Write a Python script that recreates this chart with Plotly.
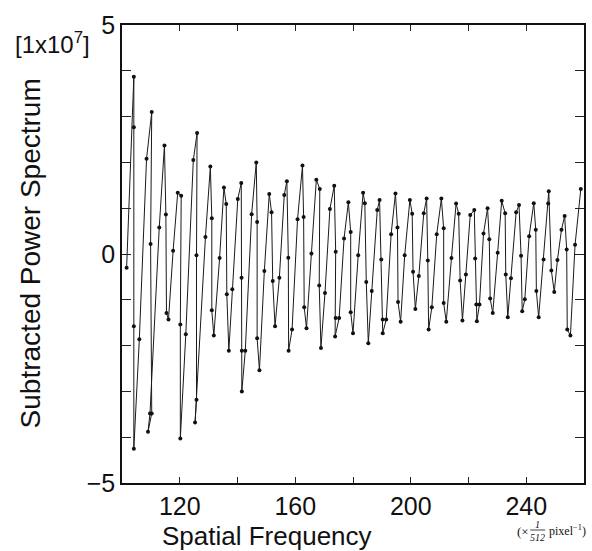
import plotly.graph_objects as go

# Spatial frequency (x 1/512 pixel^-1), in drawing order
freq = [101.6, 104.1, 104.1, 104.1, 104.1, 106.0, 108.5, 110.3, 109.9, 110.3,
        109.0, 109.7, 112.9, 114.7, 115.2, 115.4, 116.1, 117.7, 119.3, 120.5,
        120.2, 120.2, 122.1, 124.7, 126.0, 125.8, 125.8, 125.3, 128.9, 130.6,
        131.1, 131.1, 131.8, 133.8, 135.3, 136.1, 136.3, 137.0, 138.2, 140.1,
        141.3, 141.4, 141.5, 141.5, 142.7, 144.9, 146.5, 146.8, 146.8, 147.6,
        149.3, 151.0, 151.8, 152.2, 153.0, 154.5, 156.2, 157.1, 157.6, 157.7,
        158.9, 160.8, 162.5, 162.9, 163.1, 163.9, 165.6, 167.3, 168.5, 168.3,
        168.9, 170.3, 172.0, 173.5, 174.0, 174.0, 173.8, 175.2, 176.9, 178.4,
        179.2, 179.2, 180.0, 181.8, 183.5, 184.1, 184.6, 185.3, 186.5, 188.4,
        189.2, 189.8, 190.3, 190.3, 191.5, 193.2, 194.7, 195.4, 195.6, 196.5,
        197.9, 199.7, 200.5, 200.8, 201.6, 202.8, 204.5, 205.5, 205.9, 206.2,
        207.3, 209.0, 210.6, 211.4, 211.4, 212.3, 214.1, 215.7, 216.6, 217.1,
        217.9, 219.1, 220.6, 222.0, 222.3, 222.7, 222.9, 223.8, 225.2, 226.6,
        227.2, 227.5, 228.4, 230.1, 231.5, 232.7, 232.9, 233.6, 234.7, 236.5,
        237.5, 238.2, 238.6, 239.5, 241.0, 242.6, 243.3, 243.5, 244.3, 246.0,
        247.6, 247.8, 248.7, 249.7, 250.8, 252.2, 253.3, 254.0, 254.2, 255.3,
        256.9, 258.9]

# Subtracted power spectrum [1x10^7]
power = [-0.30, 3.87, 2.77, -1.58, -4.25, -1.86, 2.08, 3.10, 0.22, -3.48,
         -3.88, -3.48, 0.58, 2.37, 0.86, -1.29, -1.43, 0.07, 1.34, 1.27,
         -1.54, -4.03, -1.75, 2.05, 2.64, -0.03, -3.18, -3.68, 0.37, 1.91,
         0.78, -1.23, -1.78, -0.09, 1.45, 1.09, -0.88, -2.11, -0.77, 1.20,
         1.55, -0.52, -2.11, -3.00, -2.11, 0.87, 2.00, 0.70, -1.84, -2.54,
         -0.37, 1.31, 0.91, -0.59, -1.58, -0.52, 1.29, 1.59, -0.08, -2.11,
         -1.65, 0.76, 1.93, 0.81, -1.16, -1.62, 0.01, 1.62, 1.42, -0.69,
         -2.05, -0.85, 0.98, 1.49, 0.05, -1.40, -1.80, -1.40, 0.34, 1.13,
         0.48, -1.27, -1.73, -0.03, 1.34, 1.11, -0.61, -1.95, -0.81, 0.96,
         1.18, -0.12, -1.43, -1.73, -1.43, 0.43, 1.32, 0.58, -1.05, -1.48,
         -0.03, 1.18, 0.88, -0.39, -1.20, -0.48, 0.89, 1.21, -0.14, -1.65,
         -1.16, 0.43, 1.21, 0.56, -1.07, -1.48, -0.09, 1.10, 0.88, -0.58,
         -1.45, -0.45, 0.85, 0.96, -0.10, -1.10, -1.47, -1.10, 0.45, 1.00,
         0.32, -0.97, -1.29, 0.03, 1.16, 0.89, -0.45, -1.38, -0.53, 0.91,
         1.07, -0.04, -1.25, -0.99, 0.39, 1.11, 0.53, -0.81, -1.38, -0.12,
         1.10, 1.37, -0.36, -0.83, -0.13, 0.53, 0.83, 0.10, -1.65, -1.78,
         0.20, 1.42]

x_tickvals = [100, 120, 140, 160, 180, 200, 220, 240, 260]
x_ticktext = ["", "120", "", "160", "", "200", "", "240", ""]
y_tickvals = [-5, -4, -3, -2, -1, 0, 1, 2, 3, 4, 5]
y_ticktext = ["−5", "", "", "", "", "0", "", "", "", "", "5"]

SANS = "Liberation Sans, Arial, sans-serif"
SERIF = "Liberation Serif, Times New Roman, serif"

fig = go.Figure()
fig.add_trace(go.Scatter(
    x=freq, y=power, mode="lines+markers",
    line=dict(color="#1a1a1a", width=1),
    marker=dict(color="#111111", size=4),
    showlegend=False, hoverinfo="skip"))

fig.update_layout(
    width=592, height=551,
    margin=dict(l=122, r=6, t=25, b=68),
    paper_bgcolor="white", plot_bgcolor="white",
    font=dict(family=SANS, color="#111111"),
    xaxis=dict(range=[100, 260], tickvals=x_tickvals, ticktext=x_ticktext,
               ticks="inside", ticklen=6, tickcolor="#222", tickwidth=1,
               showline=True, linecolor="#111", linewidth=1.5, mirror="allticks",
               showgrid=False, zeroline=False,
               tickfont=dict(size=25, family=SANS, color="#111")),
    yaxis=dict(range=[-5, 5], tickvals=y_tickvals, ticktext=y_ticktext,
               ticks="inside", ticklen=9, tickcolor="#222", tickwidth=1,
               showline=True, linecolor="#111", linewidth=1.5, mirror="allticks",
               showgrid=False, zeroline=False,
               tickfont=dict(size=25, family=SANS, color="#111")),
)

# text annotations (paper coords)
def px2paper(px, py):
    return (px - 122) / 464.0, (483 - py) / 458.0

ann = []
xp, yp = px2paper(52, 43)
ann.append(dict(text="[1x10<sup>7</sup>]", x=xp, y=yp, font=dict(size=24, family=SANS)))
xp, yp = px2paper(30, 253)
ann.append(dict(text="Subtracted Power Spectrum", x=xp, y=yp, textangle=-90,
                font=dict(size=28, family=SANS)))
xp, yp = px2paper(268, 536)
ann.append(dict(text="Spatial Frequency", x=xp, y=yp, font=dict(size=26, family=SANS)))
xp, yp = px2paper(525, 531)
ann.append(dict(text="(×", x=xp, y=yp, font=dict(size=13, family=SERIF)))
xp, yp = px2paper(539, 524)
ann.append(dict(text="<i>1</i>", x=xp, y=yp, font=dict(size=10, family=SERIF)))
xp, yp = px2paper(539, 537)
ann.append(dict(text="<i>512</i>", x=xp, y=yp, font=dict(size=10, family=SERIF)))
xp, yp = px2paper(569, 530)
ann.append(dict(text="pixel<sup>−1</sup>)", x=xp, y=yp, font=dict(size=12, family=SERIF)))

for a in ann:
    a.update(xref="paper", yref="paper", showarrow=False, xanchor="center", yanchor="middle")
fig.update_layout(annotations=ann)

x0, y0 = px2paper(532, 530)
x1, _ = px2paper(547, 530)
fig.add_shape(type="line", xref="paper", yref="paper", x0=x0, x1=x1, y0=y0, y1=y0,
              line=dict(color="#111", width=0.8))

fig.write_html("out.html")
